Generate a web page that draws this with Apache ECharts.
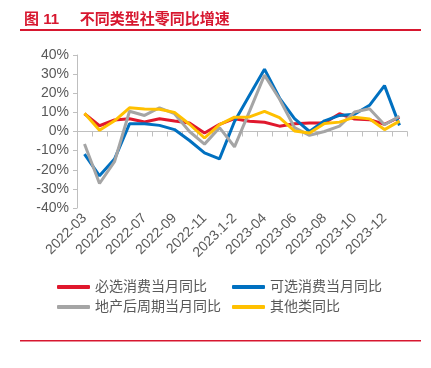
<!DOCTYPE html>
<html>
<head>
<meta charset="utf-8">
<script src="https://cdn.jsdelivr.net/npm/echarts@6/dist/echarts.min.js"></script>
<style>
  html, body { margin: 0; padding: 0; background: #fff; }
  #main { width: 431px; height: 368px; }
</style>
</head>
<body>
<div id="main"></div>
<script>
// months, 2024.1-2 is the last point (label hidden)
var categories = ['2022-03', '2022-04', '2022-05', '2022-06', '2022-07', '2022-08', '2022-09', '2022-10',
    '2022-11', '2022-12', '2023.1-2', '2023-03', '2023-04', '2023-05', '2023-06', '2023-07', '2023-08',
    '2023-09', '2023-10', '2023-11', '2023-12', '2024.1-2'];

var essential = [9.3, 3.0, 6.0, 6.7, 5.0, 6.7, 5.5, 4.5, -0.8, 3.7, 6.7, 5.4, 4.8, 2.8, 4.0, 4.4, 4.5, 9.3, 6.5, 6.2, 3.8, 7.5];
var optional = [-11.8, -23.2, -14.4, 4.0, 4.0, 3.2, 1.0, -4.7, -11.2, -14.3, 5.2, 19.0, 32.6, 17.5, 6.7, 0.0, 5.6, 8.4, 9.0, 13.7, 24.0, 3.2];
var estate = [-6.5, -27.2, -15.8, 10.6, 8.4, 12.4, 9.3, 0.0, -6.6, 2.0, -8.0, 10.5, 29.5, 17.0, 2.0, -2.0, 0.0, 2.8, 10.2, 11.9, 3.5, 8.0];
var others = [9.6, 0.7, 5.6, 12.4, 11.8, 11.6, 10.0, 3.8, -3.4, 3.6, 7.5, 7.6, 10.5, 7.2, 0.3, -0.8, 4.2, 4.9, 7.5, 6.6, 1.0, 5.4];

var seriesNames = ['必选消费当月同比', '可选消费当月同比', '地产后周期当月同比', '其他类同比'];
var colors = ['#e0182d', '#0070c0', '#a5a5a5', '#ffc000'];

var chart = echarts.init(document.getElementById('main'));

var txtColor = '#595959';
var fontFam = 'Liberation Sans, Arial, Noto Sans CJK SC, sans-serif';

function makeLine(name, data, color) {
    return {
        name: name,
        type: 'line',
        data: data,
        symbol: 'none',
        xAxisIndex: 0,
        lineStyle: {width: 3, color: color},
        itemStyle: {color: color}
    };
}

var option = {
    animation: false,
    color: colors,
    title: {
        text: '图 11     不同类型社零同比增速',
        left: 19,
        top: 7,
        textStyle: {color: '#d7172f', fontSize: 15, fontWeight: 'bold', fontFamily: fontFam}
    },
    graphic: [
        {type: 'rect', shape: {x: 20, y: 29, width: 401, height: 2}, style: {fill: '#d7172f'}},
        {type: 'rect', shape: {x: 20, y: 340, width: 401, height: 1.5}, style: {fill: '#d7172f'}}
    ],
    legend: [
        {
            orient: 'vertical',
            left: 52,
            top: 275,
            itemGap: 6,
            itemWidth: 33,
            itemHeight: 4,
            icon: 'roundRect',
            data: [seriesNames[0], seriesNames[2]],
            textStyle: {color: txtColor, fontSize: 14, fontFamily: fontFam}
        },
        {
            orient: 'vertical',
            left: 227,
            top: 275,
            itemGap: 6,
            itemWidth: 33,
            itemHeight: 4,
            icon: 'roundRect',
            data: [seriesNames[1], seriesNames[3]],
            textStyle: {color: txtColor, fontSize: 14, fontFamily: fontFam}
        }
    ],
    grid: {
        left: 77,
        right: 24,
        top: 55,
        bottom: 160
    },
    xAxis: [
        {
            type: 'category',
            data: categories,
            boundaryGap: true,
            axisLine: {onZero: true, lineStyle: {color: '#bfbfbf', width: 1}},
            axisTick: {show: true, interval: 0, length: 5, lineStyle: {color: '#bfbfbf'}},
            axisLabel: {show: false},
            splitLine: {show: false}
        },
        {
            type: 'category',
            data: categories,
            boundaryGap: true,
            position: 'bottom',
            axisLine: {show: false, onZero: false},
            axisTick: {show: false},
            axisLabel: {
                interval: 1,
                rotate: 45,
                margin: 8,
                color: txtColor,
                fontSize: 14,
                fontFamily: fontFam
            },
            splitLine: {show: false}
        }
    ],
    yAxis: {
        type: 'value',
        min: -40,
        max: 40,
        interval: 10,
        axisLine: {show: true, lineStyle: {color: '#bfbfbf'}},
        axisTick: {show: true, length: 4, lineStyle: {color: '#bfbfbf'}},
        splitLine: {show: false},
        axisLabel: {
            formatter: '{value}%',
            color: txtColor,
            fontSize: 14,
            margin: 8,
            fontFamily: fontFam
        }
    },
    series: [
        makeLine(seriesNames[0], essential, colors[0]),
        makeLine(seriesNames[1], optional, colors[1]),
        makeLine(seriesNames[2], estate, colors[2]),
        makeLine(seriesNames[3], others, colors[3])
    ]
};

chart.setOption(option);
</script>
</body>
</html>
